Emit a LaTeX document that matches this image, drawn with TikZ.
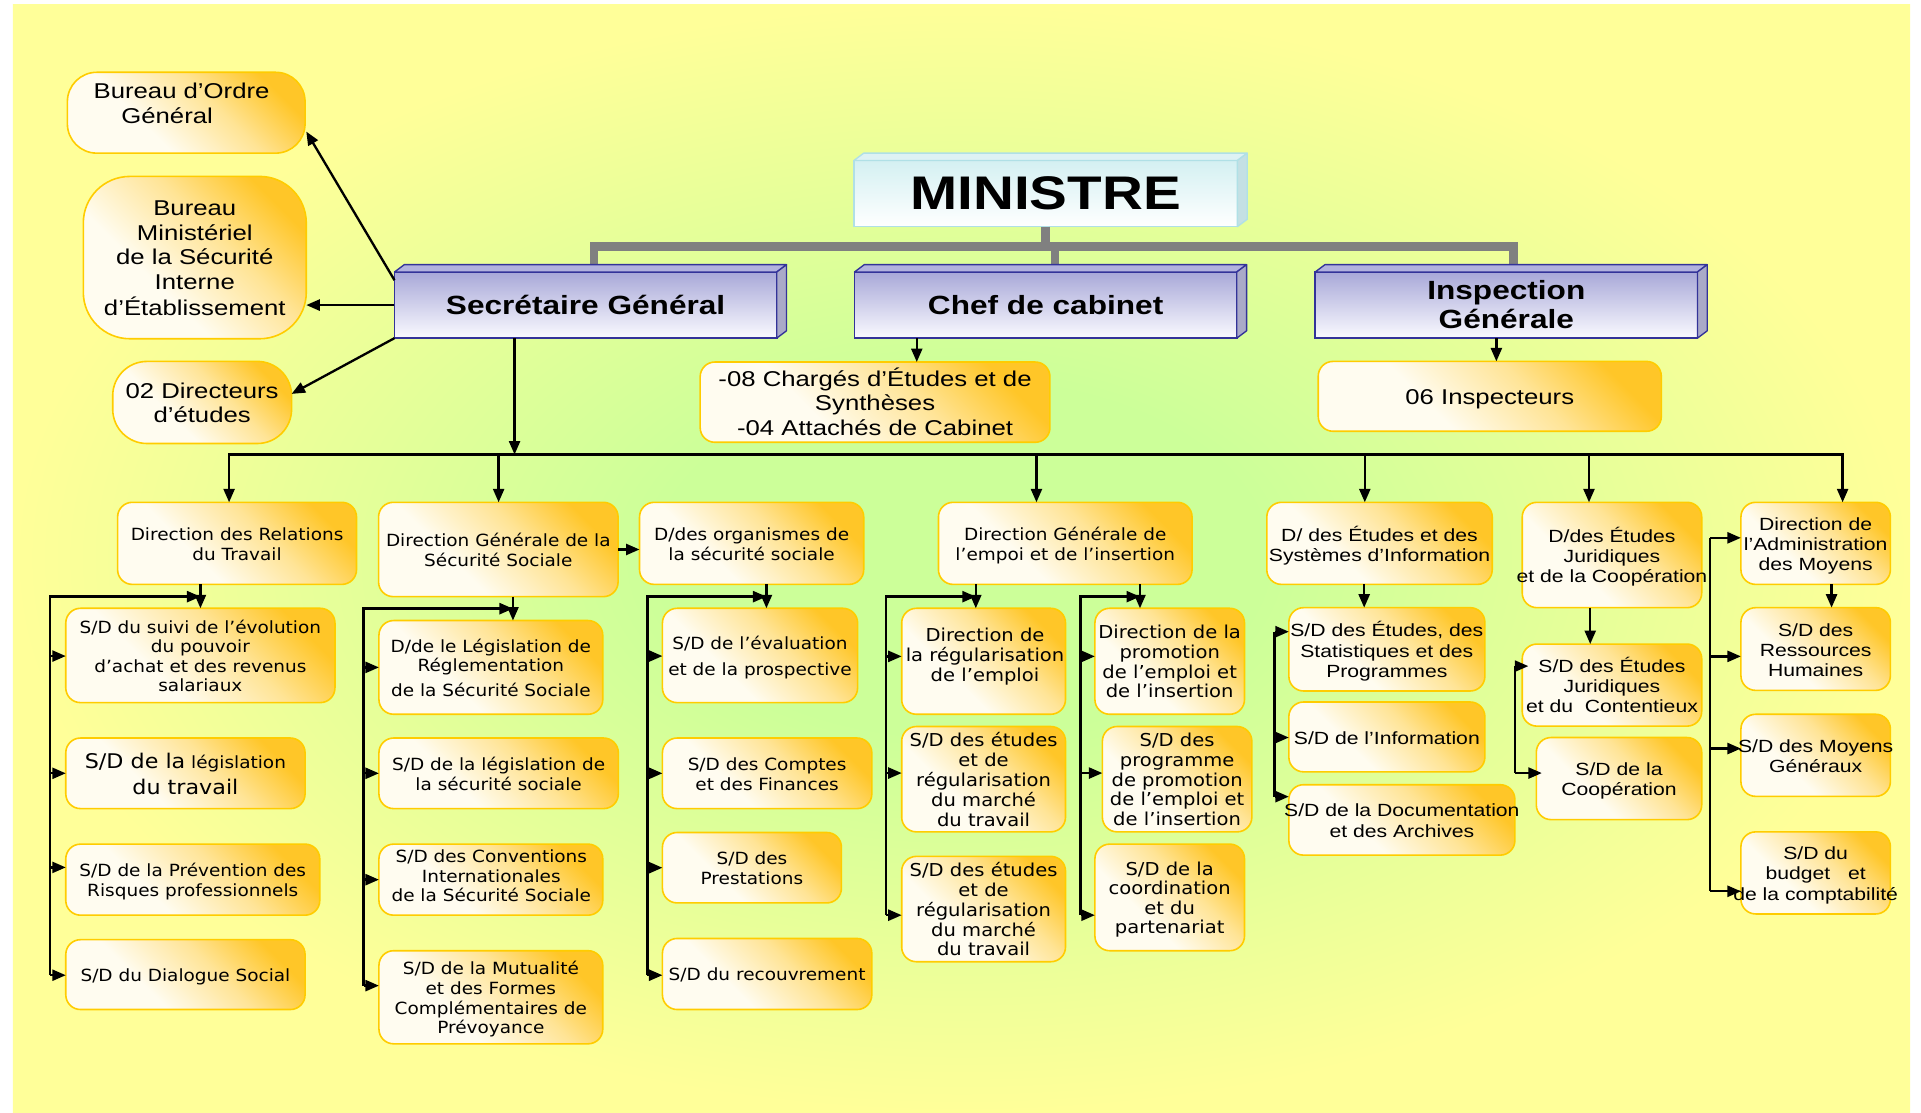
\documentclass[tikz,border=0pt]{standalone}
\usepackage{fontspec}
\usetikzlibrary{arrows.meta,calc}
\newfontfamily\fA[FakeStretch=1.2]{Liberation Sans}
\newfontfamily\fV[FakeStretch=1.1]{DejaVu Sans}

\definecolor{bgyellow}{RGB}{255,255,153}
\definecolor{bggreen}{RGB}{204,255,153}
\definecolor{oline}{RGB}{255,204,0}
\definecolor{oorange}{RGB}{255,198,40}
\definecolor{omid}{RGB}{255,228,150}
\definecolor{owhite}{RGB}{255,252,240}
\definecolor{bline}{RGB}{51,51,153}
\definecolor{btop}{RGB}{168,168,216}
\definecolor{bbot}{RGB}{250,250,255}
\definecolor{bface}{RGB}{178,178,222}
\definecolor{bside}{RGB}{170,170,200}
\definecolor{mline}{RGB}{176,224,230}
\definecolor{mtop}{RGB}{212,240,242}
\definecolor{mface}{RGB}{222,242,244}
\definecolor{mside}{RGB}{196,224,228}
\definecolor{gline}{RGB}{128,128,128}

\pgfdeclareverticalshading{orangebox}{100bp}{color(0bp)=(owhite); color(38bp)=(owhite); color(58bp)=(omid); color(75bp)=(oorange); color(100bp)=(oorange)}
\pgfdeclareradialshading{bgshade}{\pgfpoint{0bp}{0bp}}{color(0bp)=(bggreen); color(8bp)=(bggreen); color(25bp)=(bgyellow); color(50bp)=(bgyellow)}

% centred multi-line text that never widens its box (set slightly low, as the lines sit)
\newcommand\tx[1]{\makebox[0pt]{\raisebox{-2.5pt}[\height][\depth]{\begin{tabular}{@{}c@{}}#1\end{tabular}}}}
% rounded box from its corners: style, name, x1, y1, x2, y2, text
\newcommand\ob[7]{\node[ob,#1,minimum width={#5-#3},minimum height={#6-#4}] (#2) at ({(#3+#5)/2},{(#4+#6)/2}) {\tx{#7}};}
% top and side faces of a raised box
\newcommand\faces[4]{%
  \filldraw[fill=#2,draw=#4,line width=1.1pt,line join=round] (#1.north west) -- ++(8,-6) -- ($(#1.north east)+(8,-6)$) -- (#1.north east) -- cycle;
  \filldraw[fill=#3,draw=#4,line width=1.1pt,line join=round] (#1.north east) -- ++(8,-6) -- ($(#1.south east)+(8,-6)$) -- (#1.south east) -- cycle;}
% side branch from a vertical bus into a box: bus, box, dx, dy
\newcommand\branch[4]{\path ($(#2.west)+(#3,#4)$) coordinate (t#2); \draw[arr] (#1 |- t#2) -- (t#2);}

\begin{document}
\begin{tikzpicture}[x=1pt,y=-1pt,
  ob/.style={draw=oline, line width=1.3pt, rounded corners=12pt, shading=orangebox, shading angle=-45, inner sep=0pt, outer sep=0pt},
  fv/.style={font=\fV\fontsize{13.7}{16}\selectfont},
  fw/.style={font=\fV\fontsize{14.5}{16}\selectfont},
  fa/.style={font=\fA\fontsize{14.4}{16.4}\selectfont},
  ft/.style={font=\fA\fontsize{17.5}{20}\selectfont},
  bb/.style={draw=bline, line width=1.3pt, top color=btop, bottom color=bbot, inner sep=0pt, outer sep=0pt, minimum width=312, minimum height=54, font=\fA\bfseries\fontsize{21.5}{24.3}\selectfont},
  mb/.style={draw=mline, line width=1.3pt, top color=mtop, bottom color=white, inner sep=0pt, outer sep=0pt, font=\fA\bfseries\fontsize{38.5}{40}\selectfont},
  ln/.style={draw=black, line width=1.9pt},
  arr/.style={ln, -{Triangle[length=11pt,width=9pt]}},
  gl/.style={draw=gline, line width=7pt},
  txt/.style={inner sep=0pt}
]
\useasboundingbox (0,0) rectangle (1568,908);
\fill[white] (0,0) rectangle (1568,908);
\shade[shading=bgshade] (10.6,3.3) rectangle (1559,908);

% ---- top level boxes
\node[mb, minimum width=313, minimum height=54] (min) at (853.5,158) {MINISTRE};
\node[bb] (sg) at (478,249) {\tx{Secrétaire Général}};
\node[bb] (chef) at (853.5,249) {\tx{Chef de cabinet}};
\node[bb] (ig) at (1229.5,249) {\tx{Inspection\\Générale}};

% grey links from the minister
\coordinate (gL) at (485,201);
\coordinate (gR) at (1235.5,201);
\coordinate (gC) at (861,201);
\coordinate (sgtop) at ($(sg.north)+(0,-6)$);
\coordinate (chtop) at ($(chef.north)+(0,-6)$);
\coordinate (igtop) at ($(ig.north)+(0,-6)$);
\draw[gl] (gL |- sgtop) -- (gL) -- (gR) -- (gR |- igtop);
\draw[gl] (min.south) -- (min.south |- gL);
\draw[gl] (gC) -- (gC |- chtop);

\faces{min}{mface}{mside}{mline}
\faces{sg}{bface}{bside}{bline}
\faces{chef}{bface}{bside}{bline}
\faces{ig}{bface}{bside}{bline}

% ---- attached offices
\ob{ft,rounded corners=24pt}{bog}{55}{59}{249}{125}{}
\node[ft,txt] (bogt) at (148.2,84) {\tx{Bureau d’Ordre\\Général\hspace{23.6pt}\mbox{}}};
\ob{ft,rounded corners=38pt}{bmin}{68}{144}{250}{276.5}{Bureau\\Ministériel\\de la Sécurité\\Interne\\d’Établissement}
\ob{ft,rounded corners=28pt}{dir02}{92}{295}{238}{362}{02 Directeurs\\d’études}
\ob{ft}{charges}{571.5}{295.5}{857}{361}{-08 Chargés d’Études et de\\Synthèses\\-04 Attachés de Cabinet}
\ob{ft}{insp}{1076}{295}{1356}{352}{06 Inspecteurs}

% ---- directions
\ob{fv}{drt}{96}{410}{291}{477}{Direction des Relations\\du Travail}
\ob{fv}{dgss}{309}{410}{504.5}{487}{Direction Générale de la\\Sécurité Sociale}
\ob{fv}{dorg}{522}{410}{705}{477}{D/des organismes de\\la sécurité sociale}
\ob{fv}{dgemp}{766}{410}{973}{477}{Direction Générale de\\l’empoi et de l’insertion}
\ob{fa}{desi}{1034}{410}{1218}{477}{D/ des Études et des\\Systèmes d’Information}
\ob{fa}{dejc}{1242.5}{410}{1389}{496}{D/des Études\\Juridiques\\et de la Coopération}
\ob{fa}{dam}{1421}{410}{1543}{477}{Direction de\\l’Administration\\des Moyens}

% ---- sub-directions
\ob{fv}{c1a}{53.7}{496.5}{273.4}{573.5}{S/D du suivi de l’évolution\\du pouvoir\\d’achat et des revenus\\salariaux}
\ob{fv}{c1b}{53.7}{602.4}{249}{660}{{\fontsize{16.5}{20}\selectfont S/D de la} législation\\[4pt]{\fontsize{16.5}{20}\selectfont du travail}}
\ob{fv}{c1c}{53.7}{689}{261}{747}{S/D de la Prévention des\\Risques professionnels}
\ob{fv}{c1d}{53.7}{767}{249}{824}{S/D du Dialogue Social}

\ob{fv}{c2a}{309.3}{506.5}{492}{583}{D/de le Législation de\\Réglementation\\[4pt]de la Sécurité Sociale}
\ob{fv}{c2b}{309.3}{602.4}{504.7}{660}{S/D de la législation de\\la sécurité sociale}
\ob{fv}{c2c}{309.3}{689}{492}{747}{}
\node[fv,txt] (c2ct) at (401,714.5) {\tx{S/D des Conventions\\Internationales\\de la Sécurité Sociale}};
\ob{fv}{c2d}{309.3}{776}{492}{852}{S/D de la Mutualité\\et des Formes\\Complémentaires de\\Prévoyance}

\ob{fv}{c3a}{540.7}{496.5}{700}{573.5}{S/D de l’évaluation\\[5pt]et de la prospective}
\ob{fv}{c3b}{540.7}{602.4}{711.6}{660}{S/D des Comptes\\et des Finances}
\ob{fv}{c3c}{540.7}{679.5}{686.8}{737}{S/D des\\Prestations}
\ob{fv}{c3d}{540.7}{766}{711.6}{824}{S/D du recouvrement}

\ob{fw}{c4a1}{736}{496.5}{869.7}{583}{}
\node[fw,txt] (c4a1t) at (804,534) {\tx{Direction de\\la régularisation\\de l’emploi}};
\ob{fw}{c4a2}{736}{593}{869.7}{679}{S/D des études\\et de\\régularisation\\du marché\\du travail}
\ob{fw}{c4a3}{736}{699}{869.7}{785}{S/D des études\\et de\\régularisation\\du marché\\du travail}

\ob{fw}{c4b1}{893.7}{496.5}{1015.8}{583}{Direction de la\\promotion\\de l’emploi et\\de l’insertion}
\ob{fw}{c4b2}{899.8}{593}{1021.8}{679}{S/D des\\programme\\de promotion\\de l’emploi et\\de l’insertion}
\ob{fw}{c4b3}{893.7}{689}{1015.8}{776}{S/D de la\\coordination\\et du\\partenariat}

\ob{fa}{c5a}{1052}{496}{1212}{564}{S/D des Études, des\\Statistiques et des\\Programmes}
\ob{fa}{c5b}{1052}{573}{1212}{630}{S/D de l’Information}
\ob{fa}{c5c}{1052}{640.5}{1236.5}{698}{S/D de la Documentation\\et des Archives}

\ob{fa}{c6a}{1242.5}{525.7}{1389}{592.7}{S/D des Études\\Juridiques\\et du\ \ Contentieux}
\ob{fa}{c6b}{1254}{602}{1389}{669}{S/D de la\\Coopération}

\ob{fa}{c7a}{1421}{496}{1543}{563.5}{S/D des\\Ressources\\Humaines}
\ob{fa}{c7b}{1421}{583}{1543}{650}{S/D des Moyens\\Généraux}
\ob{fa}{c7c}{1421}{679}{1543}{746}{S/D du\\budget\ \ \ et\\de la comptabilité}

% ---- links from the secretary general
\draw[arr] ($(sg.north west)+(0,6.7)$) -- ($(bog.east)+(1,15.4)$);
\draw[arr] (sg.west) -- (sg.west -| bmin.east);
\draw[arr] (sg.south west) -- ($(dir02.east)+(0,-7)$);
\coordinate (sgout) at ($(sg.south)+(-58,0)$);
\coordinate (cout) at ($(chef.south)+(-105.2,0)$);
\coordinate (iout) at ($(ig.south)+(-8.1,0)$);
\draw[arr] (cout) -- (cout |- charges.north);
\draw[arr] (iout) -- (iout |- insp.north);

% ---- main distribution line
\coordinate (j1) at (187,371);
\coordinate (j2) at (407,371);
\coordinate (j3) at (846,371);
\coordinate (j4) at (1114,371);
\coordinate (j5) at (1297,371);
\coordinate (j6) at (1504,371);
\draw[arr] (sgout) -- (sgout |- j1);
\draw[ln, line cap=rect] (j1) -- (j6);
\foreach \j/\n in {j1/drt,j2/dgss,j3/dgemp,j4/desi,j5/dejc,j6/dam}
  \draw[arr] (\j) -- (\j |- \n.north);
\draw[arr] (dgss.east) -- (dgss.east -| dorg.west);

% ---- column 1
\coordinate (p1) at ($(drt.south west)+(67.6,0)$);
\coordinate (b1) at (41,487);
\draw[arr] (p1) -- (p1 |- c1a.north);
\branch{b1}{c1a}{0}{0.5}
\branch{b1}{c1b}{0}{0}
\branch{b1}{c1c}{0}{-10}
\branch{b1}{c1d}{0}{0.5}
\draw[arr] (b1 |- tc1d) -- (b1) -- (b1 -| p1);

% ---- column 2
\coordinate (p2) at ($(dgss.south west)+(109.7,0)$);
\coordinate (b2) at (296.7,496.8);
\draw[arr] (p2) -- (p2 |- c2a.north);
\branch{b2}{c2a}{0}{0}
\branch{b2}{c2b}{0}{0}
\branch{b2}{c2c}{0}{0}
\branch{b2}{c2d}{0}{-9.5}
\draw[arr] (b2 |- tc2d) -- (b2) -- (b2 -| p2);

% ---- column 3
\coordinate (p3) at ($(dorg.south west)+(103.6,0)$);
\coordinate (b3) at (528.4,487);
\draw[arr] (p3) -- (p3 |- c3a.north);
\branch{b3}{c3a}{0}{0.5}
\branch{b3}{c3b}{0}{0}
\branch{b3}{c3c}{0}{0}
\branch{b3}{c3d}{0}{1}
\draw[arr] (b3 |- tc3d) -- (b3) -- (b3 -| p3);

% ---- column 4, left
\coordinate (p4) at ($(dgemp.south west)+(30.5,0)$);
\coordinate (b4) at (723,487);
\draw[arr] (p4) -- (p4 |- c4a1.north);
\branch{b4}{c4a1}{0}{-4}
\branch{b4}{c4a2}{0}{-5}
\branch{b4}{c4a3}{0}{5}
\draw[arr] (b4 |- tc4a3) -- (b4) -- (b4 -| p4);

% ---- column 4, right
\coordinate (p5) at ($(dgemp.south west)+(164.5,0)$);
\coordinate (b5) at (882,487);
\draw[arr] (p5) -- (p5 |- c4b1.north);
\branch{b5}{c4b1}{0}{-4}
\branch{b5}{c4b2}{0}{-5}
\branch{b5}{c4b3}{0}{14.5}
\draw[arr] (b5 |- tc4b3) -- (b5) -- (b5 -| p5);

% ---- column 5
\coordinate (p6) at ($(desi.south west)+(79.5,0)$);
\coordinate (b6) at (1040.3,515.6);
\draw[arr] (p6) -- (p6 |- c5a.north);
\branch{b6}{c5a}{0}{-14.4}
\branch{b6}{c5b}{0}{0.5}
\branch{b6}{c5c}{0}{-19}
\draw[ln] (b6 |- tc5a) -- (b6 |- tc5c);

% ---- column 6
\coordinate (p7) at ($(dejc.south west)+(55.5,0)$);
\coordinate (b7) at (1236.6,543.5);
\draw[arr] (p7) -- (p7 |- c6a.north);
\branch{b7}{c6a}{5}{-15.5}
\branch{b7}{c6b}{4.5}{-4.5}
\draw[ln] (b7 |- tc6a) -- (b7 |- tc6b);

% ---- column 7
\coordinate (p8) at ($(dam.south west)+(74,0)$);
\coordinate (b8) at (1396,439);
\draw[arr] (p8) -- (p8 |- c7a.north);
\branch{b8}{dam}{0}{-4.5}
\branch{b8}{c7a}{0}{6}
\branch{b8}{c7b}{0}{-5.5}
\branch{b8}{c7c}{0}{15}
\draw[ln] (b8 |- tdam) -- (b8 |- tc7c);
\end{tikzpicture}
\end{document}
